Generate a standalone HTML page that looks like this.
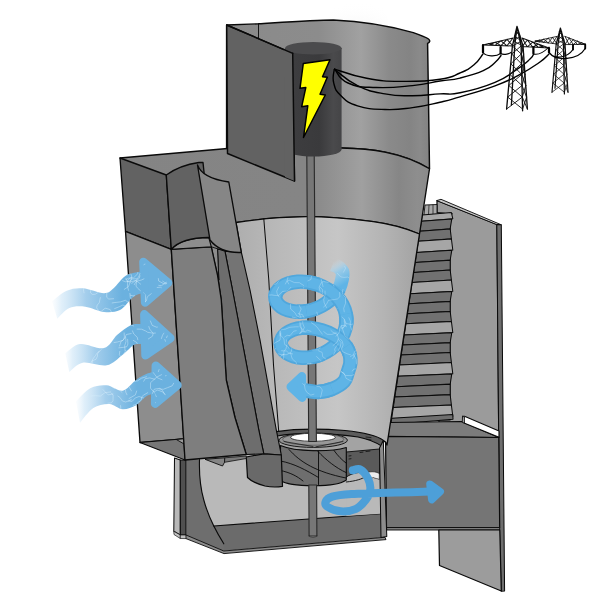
<!DOCTYPE html>
<html><head><meta charset="utf-8"><title>Hydro turbine diagram</title>
<style>html,body{margin:0;padding:0;background:#fff;font-family:"Liberation Sans",sans-serif}svg{display:block}</style>
</head><body>
<svg width="600" height="600" viewBox="0 0 600 600">
<rect width="600" height="600" fill="#fff"/>
<defs>
<linearGradient id="gWall" x1="227" y1="0" x2="430" y2="0" gradientUnits="userSpaceOnUse">
 <stop offset="0" stop-color="#8a8a8a"/><stop offset="0.45" stop-color="#8c8c8c"/>
 <stop offset="0.66" stop-color="#a1a1a1"/><stop offset="0.8" stop-color="#8a8a8a"/>
 <stop offset="0.9" stop-color="#848484"/><stop offset="0.95" stop-color="#8a8a8a"/><stop offset="1" stop-color="#828282"/>
</linearGradient>
<linearGradient id="gBand" x1="120" y1="0" x2="430" y2="0" gradientUnits="userSpaceOnUse">
 <stop offset="0" stop-color="#848484"/><stop offset="0.6" stop-color="#858585"/>
 <stop offset="0.78" stop-color="#a0a0a0"/><stop offset="0.9" stop-color="#868686"/><stop offset="0.96" stop-color="#8e8e8e"/><stop offset="1" stop-color="#8a8a8a"/>
</linearGradient>
<linearGradient id="gCone" x1="237" y1="0" x2="420" y2="0" gradientUnits="userSpaceOnUse">
 <stop offset="0" stop-color="#aeaeae"/><stop offset="0.2" stop-color="#b8b8b8"/>
 <stop offset="0.55" stop-color="#c6c6c6"/><stop offset="0.8" stop-color="#b4b4b4"/><stop offset="1" stop-color="#a2a2a2"/>
</linearGradient>
<linearGradient id="gGen" x1="285" y1="0" x2="342" y2="0" gradientUnits="userSpaceOnUse">
 <stop offset="0" stop-color="#3e3e40"/><stop offset="0.6" stop-color="#3a3a3c"/><stop offset="0.85" stop-color="#4a4a4c"/><stop offset="1" stop-color="#444446"/>
</linearGradient>
<radialGradient id="gFog" cx="0.5" cy="1" r="0.9"><stop offset="0" stop-color="#e9e9e9"/><stop offset="1" stop-color="#ffffff" stop-opacity="0"/></radialGradient>
<filter id="soft" x="-5%" y="-5%" width="110%" height="110%"><feGaussianBlur stdDeviation="0.5"/></filter>
</defs>
<ellipse cx="358" cy="22" rx="30" ry="26" fill="url(#gFog)"/>
<path d="M437,200.5 L497,224.5 L499.5,530 L439,530 L439,420 L450,420 L450,214 L437,212.5 Z" fill="#9b9b9b" stroke="#0a0a0a" stroke-width="1.23" stroke-linejoin="round" stroke-linecap="round" />
<path d="M437,200.5 L441,199.3 L501.3,224.8 L496.8,224.5 Z" fill="#c8c8c8" stroke="#0a0a0a" stroke-width="0.9" stroke-linejoin="round" stroke-linecap="round" />
<polygon points="496.8,224.5 501.3,224.8 504.6,591.0 501.2,591.3 499.5,530.0" fill="#6e6e6e" stroke="#0a0a0a" stroke-width="1.01" stroke-linejoin="round" />
<polygon points="425.0,205.0 437.0,204.5 437.0,213.0 452.5,213.8 423.8,215.5" fill="#a8a8a8" stroke="#0a0a0a" stroke-width="0.9" stroke-linejoin="round" />
<path d="M429,205.5 L428.5,214.5 M433,205 L433,214" fill="none" stroke="#0a0a0a" stroke-width="0.67" stroke-linejoin="round" stroke-linecap="round" />
<polygon points="422.3,215.0 451.4,212.6 452.8,218.7 421.3,221.3" fill="#a6a6a6" stroke="#0a0a0a" stroke-width="1.01" stroke-linejoin="round" />
<polygon points="421.3,221.3 451.8,218.9 450.2,228.7 419.8,231.3" fill="#717171" stroke="#0a0a0a" stroke-width="1.01" stroke-linejoin="round" />
<polygon points="419.8,231.3 450.2,228.9 451.4,238.7 418.3,241.3" fill="#717171" stroke="#0a0a0a" stroke-width="1.01" stroke-linejoin="round" />
<polygon points="418.3,241.3 451.4,238.9 452.8,250.0 416.6,252.6" fill="#a6a6a6" stroke="#0a0a0a" stroke-width="1.01" stroke-linejoin="round" />
<polygon points="416.6,252.6 451.8,250.2 450.2,260.0 415.1,262.6" fill="#717171" stroke="#0a0a0a" stroke-width="1.01" stroke-linejoin="round" />
<polygon points="415.1,262.6 450.2,260.2 450.2,269.9 413.6,272.5" fill="#717171" stroke="#0a0a0a" stroke-width="1.01" stroke-linejoin="round" />
<polygon points="413.6,272.5 450.2,270.1 451.4,279.9 412.1,282.5" fill="#717171" stroke="#0a0a0a" stroke-width="1.01" stroke-linejoin="round" />
<polygon points="412.1,282.5 451.4,280.1 452.8,291.2 410.4,293.8" fill="#a6a6a6" stroke="#0a0a0a" stroke-width="1.01" stroke-linejoin="round" />
<polygon points="410.4,293.8 451.8,291.4 450.2,301.2 408.9,303.8" fill="#717171" stroke="#0a0a0a" stroke-width="1.01" stroke-linejoin="round" />
<polygon points="408.9,303.8 450.2,301.4 450.2,311.2 407.4,313.8" fill="#717171" stroke="#0a0a0a" stroke-width="1.01" stroke-linejoin="round" />
<polygon points="407.4,313.8 450.2,311.4 451.4,321.2 405.9,323.8" fill="#717171" stroke="#0a0a0a" stroke-width="1.01" stroke-linejoin="round" />
<polygon points="405.9,323.8 451.4,321.4 452.8,332.5 404.2,335.1" fill="#a6a6a6" stroke="#0a0a0a" stroke-width="1.01" stroke-linejoin="round" />
<polygon points="404.2,335.1 451.8,332.7 450.2,342.5 402.7,345.1" fill="#717171" stroke="#0a0a0a" stroke-width="1.01" stroke-linejoin="round" />
<polygon points="402.7,345.1 450.2,342.7 450.2,352.4 401.2,355.0" fill="#717171" stroke="#0a0a0a" stroke-width="1.01" stroke-linejoin="round" />
<polygon points="401.2,355.0 450.2,352.6 451.4,362.4 399.7,365.0" fill="#717171" stroke="#0a0a0a" stroke-width="1.01" stroke-linejoin="round" />
<polygon points="399.7,365.0 451.4,362.6 452.8,373.7 398.0,376.3" fill="#a6a6a6" stroke="#0a0a0a" stroke-width="1.01" stroke-linejoin="round" />
<polygon points="398.0,376.3 451.8,373.9 450.2,384.1 396.4,386.7" fill="#717171" stroke="#0a0a0a" stroke-width="1.01" stroke-linejoin="round" />
<polygon points="396.4,386.7 450.2,384.3 450.2,394.5 394.8,397.1" fill="#717171" stroke="#0a0a0a" stroke-width="1.01" stroke-linejoin="round" />
<polygon points="394.8,397.1 450.2,394.7 451.4,404.9 393.3,407.5" fill="#717171" stroke="#0a0a0a" stroke-width="1.01" stroke-linejoin="round" />
<polygon points="393.3,407.5 451.4,405.1 452.8,416.2 391.6,418.8" fill="#a6a6a6" stroke="#0a0a0a" stroke-width="1.01" stroke-linejoin="round" />
<polygon points="391.7,418.3 452.8,414.5 453.0,419.3 391.0,424.5" fill="#6f6f6f" stroke="#0a0a0a" stroke-width="1.01" stroke-linejoin="round" />
<polygon points="389.0,422.5 461.5,421.5 498.8,437.5 385.5,436.3" fill="#7c7c7c" stroke="#0a0a0a" stroke-width="1.12" stroke-linejoin="round" />
<polygon points="462.5,416.3 464.5,416.3 499.0,431.0 499.0,437.3 464.0,423.0" fill="#ffffff" stroke="#0a0a0a" stroke-width="1.12" stroke-linejoin="round" />
<polygon points="462.5,416.3 464.5,417.0 464.5,423.0 462.3,422.5" fill="#9a9a9a" stroke="#0a0a0a" stroke-width="0.78" stroke-linejoin="round" />
<polygon points="385.5,436.3 498.8,437.5 499.7,527.5 386.5,527.5" fill="#757575" stroke="#0a0a0a" stroke-width="1.23" stroke-linejoin="round" />
<polygon points="386.5,527.5 499.7,527.5 499.7,530.0 386.8,530.0" fill="#7d7d7d" stroke="#0a0a0a" stroke-width="0.9" stroke-linejoin="round" />
<polygon points="438.8,530.0 499.8,530.0 501.3,591.0 439.5,565.5" fill="#9c9c9c" stroke="#0a0a0a" stroke-width="1.23" stroke-linejoin="round" />
<path d="M185.8,458 L383,440 L383,520 L186,536 Z" fill="#b9b9b9" stroke="none" stroke-width="0" stroke-linejoin="round" stroke-linecap="round" />
<path d="M213.8,526 L380.5,513.8 L385,537.3 L223.8,551 L186,535 L186,470 Z" fill="#6b6b6b" stroke="none" stroke-width="0" stroke-linejoin="round" stroke-linecap="round" />
<path d="M185.8,458 L199.5,459.5 C199,475 201,490 203.8,500 C207,512 212,525 223.8,543.8 L223.8,551 L186,535 Z" fill="#6e6e6e" stroke="none" stroke-width="0" stroke-linejoin="round" stroke-linecap="round" />
<path d="M199.5,459.5 C199,475 201,490 203.8,500 C207,512 212,525 223.8,543.8" fill="none" stroke="#0a0a0a" stroke-width="1.12" stroke-linejoin="round" stroke-linecap="round" />
<path d="M213.8,526 L380.5,513.8" fill="none" stroke="#0a0a0a" stroke-width="1.12" stroke-linejoin="round" stroke-linecap="round" />
<path d="M186,535 L223.8,551 L385,537.3 L386,539.6 L224,553.6 L186,538.6 Z" fill="#8c8c8c" stroke="#0a0a0a" stroke-width="0.9" stroke-linejoin="round" stroke-linecap="round" />
<polygon points="174.5,458.0 180.3,460.0 180.3,535.0 173.8,531.3" fill="#b8b8b8" stroke="#0a0a0a" stroke-width="1.01" stroke-linejoin="round" />
<polygon points="180.3,460.0 185.8,460.0 185.8,535.0 180.3,535.0" fill="#505050" stroke="#0a0a0a" stroke-width="1.01" stroke-linejoin="round" />
<polygon points="173.8,531.3 180.3,535.0 180.3,538.5 174.0,534.5" fill="#c4c4c4" stroke="#0a0a0a" stroke-width="0.67" stroke-linejoin="round" />
<polygon points="180.3,535.0 185.8,535.0 186.0,538.6 180.3,538.5" fill="#bdbdbd" stroke="#0a0a0a" stroke-width="0.67" stroke-linejoin="round" />
<path d="M226.6,25 L258.5,23.8 C290,21.8 315,20 333.3,20 C360,21.2 390,26 413.3,32.6 C420,34.9 426,37.2 428.5,39 C430.5,40.5 430,42.5 427.6,43.4 L428.5,100 L429.5,168.8 C402,152 370,148.5 341,148 L300,148 L226.6,154 Z" fill="url(#gWall)" stroke="#0a0a0a" stroke-width="1.46" stroke-linejoin="round" stroke-linecap="round" />
<path d="M258.5,23.8 L258.5,40" fill="none" stroke="#0a0a0a" stroke-width="0.9" stroke-linejoin="round" stroke-linecap="round" />
<path d="M120,158 L227.5,148.5 L300,148 L341,148 C370,148.5 402,152 429.5,168.8 L419.5,234 C405,228 390,224 373.3,221.7 C345,218 320,216.7 306.7,216.7 C275,217.3 250,220.3 237.5,222.5 L240,250 L171,250 Z" fill="url(#gBand)" stroke="#0a0a0a" stroke-width="1.34" stroke-linejoin="round" stroke-linecap="round" />
<path d="M236,222.5 C250,220.3 275,217.3 306.7,216.7 C320,216.7 345,218 373.3,221.7 C390,224 405,228 419.5,234 L387,445 C386,442 385,441 383,440.6 L276,432 L270,445 L242,445 L241.3,252.5 Z" fill="url(#gCone)" stroke="#0a0a0a" stroke-width="1.34" stroke-linejoin="round" stroke-linecap="round" />
<path d="M263.8,218.8 L268.8,280 L273.5,365 L278.7,431" fill="none" stroke="#0a0a0a" stroke-width="1.01" stroke-linejoin="round" stroke-linecap="round" />
<path d="M346.3,449 L380,448.5 L380.3,513.8 L346.3,516 Z" fill="#b9b9b9" stroke="none" stroke-width="0" stroke-linejoin="round" stroke-linecap="round" />
<path d="M346.3,449 L379.5,447 L379.5,474 C376,472.5 372,472 368,472.5 C360,471.5 352,473 346.3,477 Z" fill="#5a5a5a" stroke="#0a0a0a" stroke-width="0.9" stroke-linejoin="round" stroke-linecap="round" />
<path d="M366.5,473 C370,471 376,471.5 379.3,473.5 L379.3,479.5 C377,478 375.5,479 373.5,477.5 C371,478.5 368,477 366.5,473Z" fill="#ececec" stroke="#0a0a0a" stroke-width="0.56" stroke-linejoin="round" stroke-linecap="round" />
<path d="M349,456 l2,-0.3 M349,459 l2,-0.3 M360,452.5 l3,-0.4 M366,451.5 l4,-0.5" fill="none" stroke="#0a0a0a" stroke-width="0.78" stroke-linejoin="round" stroke-linecap="round" />
<path d="M277,434.7 C295,432 330,431.5 358,436 C368,438 375,440.5 382,445.6 L379.5,449 L346.3,452 L280,449 Z" fill="#a3a3a3" stroke="#0a0a0a" stroke-width="0.9" stroke-linejoin="round" stroke-linecap="round" />
<path d="M276.3,431.6 C295,428.8 318,428.3 345,430.5 C362,432.2 377,435.6 383.5,440.4 L382,446.4 C375,441.5 368,439 358,437 C330,432.5 295,432.8 277,436 Z" fill="#5c5c5c" stroke="#0a0a0a" stroke-width="1.12" stroke-linejoin="round" stroke-linecap="round" />
<ellipse cx="313.2" cy="440.2" rx="34.2" ry="7.2" fill="#929292" stroke="#0a0a0a" stroke-width="0.9"/>
<ellipse cx="313.2" cy="439.4" rx="30.5" ry="5.8" fill="#989898" stroke="#333" stroke-width="0.5"/>
<ellipse cx="313" cy="437.3" rx="22.4" ry="4" fill="#ffffff" stroke="#0a0a0a" stroke-width="0.7"/>
<path d="M284,441.5 L313,446.5 M343,441.5 L316,446.8 M366,437 l5,0.6 M367,439.3 l4,0.5" fill="none" stroke="#0a0a0a" stroke-width="0.67" stroke-linejoin="round" stroke-linecap="round" />
<path d="M280.5,445.5 L280.5,480.5 C290,487 336,488 346.3,480 L346.3,447.5 C330,452.3 296,452 280.5,445.5 Z" fill="#6e6e6e" stroke="#0a0a0a" stroke-width="1.12" stroke-linejoin="round" stroke-linecap="round" />
<path d="M289,449.5 C300,462 316,472 346,478 M318,451.5 C326,460 336,468 346,472.5 M318.5,451.5 L318.5,484.5 M280.5,461 C294,463.5 306,470 318.5,477.5 M334,450.5 C338,456 342,460 346,463 M280.5,470.5 C290,472.5 297,476 303,481" fill="none" stroke="#0a0a0a" stroke-width="0.9" stroke-linejoin="round" stroke-linecap="round" />
<path d="M346.3,482 C356,481 362,479 366,476.5" fill="none" stroke="#0a0a0a" stroke-width="0.9" stroke-linejoin="round" stroke-linecap="round" />
<polygon points="379.5,448.0 383.3,440.6 386.8,536.5 381.0,537.5" fill="#8c8c8c" stroke="#0a0a0a" stroke-width="1.01" stroke-linejoin="round" />
<polygon points="120.0,158.0 166.3,175.0 171.3,249.3 125.5,231.3" fill="#626262" stroke="#0a0a0a" stroke-width="1.34" stroke-linejoin="round" />
<polygon points="125.5,231.3 171.3,249.3 183.8,438.8 140.0,442.5" fill="#8d8d8d" stroke="#0a0a0a" stroke-width="1.34" stroke-linejoin="round" />
<polygon points="140.0,442.5 183.8,438.8 185.0,460.0" fill="#767676" stroke="#0a0a0a" stroke-width="1.12" stroke-linejoin="round" />
<polygon points="176.3,439.5 183.8,438.8 184.2,444.0" fill="#9a9a9a" stroke="#0a0a0a" stroke-width="0.9" stroke-linejoin="round" />
<polygon points="225.0,251.3 232.5,290.0 243.8,350.0 258.8,430.0 263.8,453.8 281.3,455.0 276.3,430.0 260.0,340.0 250.0,290.0 241.3,252.0" fill="#747474" stroke="#0a0a0a" stroke-width="1.12" stroke-linejoin="round" />
<polygon points="217.5,248.8 225.0,251.3 232.5,290.0 243.8,350.0 258.8,430.0 263.8,453.8 246.3,454.5 235.0,417.5 226.3,380.0 221.3,300.0 217.5,275.0 218.8,280.0" fill="#6d6d6d" stroke="#0a0a0a" stroke-width="1.12" stroke-linejoin="round" />
<polygon points="211.3,246.8 217.5,248.8 218.8,280.0 217.5,275.0" fill="#8d8d8d" stroke="#0a0a0a" stroke-width="0.9" stroke-linejoin="round" />
<path d="M246.3,457 L263.8,453.8 L281.3,455 L282.5,486.3 C276,487.5 270,487 265,486 C257,484 251,481 247.5,477.5 Z" fill="#696969" stroke="#0a0a0a" stroke-width="1.23" stroke-linejoin="round" stroke-linecap="round" />
<polygon points="205.0,459.3 224.8,457.8 224.5,462.3 222.5,466.0" fill="#858585" stroke="#0a0a0a" stroke-width="0.9" stroke-linejoin="round" />
<polygon points="224.8,457.8 246.3,456.0 246.3,458.5 224.5,462.3" fill="#7a7a7a" stroke="#0a0a0a" stroke-width="0.78" stroke-linejoin="round" />
<polygon points="171.3,249.3 211.3,246.8 217.5,275.0 221.3,300.0 226.3,380.0 235.0,417.5 246.3,454.5 185.0,460.0" fill="#7e7e7e" stroke="#0a0a0a" stroke-width="1.34" stroke-linejoin="round" />
<path d="M171.3,249.3 C178,242 190,237.5 208.8,237.5 L211.3,246.8 Z" fill="#8e8e8e" stroke="#0a0a0a" stroke-width="1.12" stroke-linejoin="round" stroke-linecap="round" />
<path d="M166.3,175 C176,168 188,164 198.8,162.5 L203,162.5 L204,172 L212,241 L208.8,237.5 C190,237.5 178,242 171.3,249.3 Z" fill="#626262" stroke="#0a0a0a" stroke-width="1.34" stroke-linejoin="round" stroke-linecap="round" />
<path d="M197.5,165 C200,172 208,179 228.8,182 L241.3,252.5 C228,253 217,249 210,240 Z" fill="#868686" stroke="#0a0a0a" stroke-width="1.34" stroke-linejoin="round" stroke-linecap="round" />
<polygon points="226.7,25.0 292.7,53.3 294.5,181.0 227.5,153.5" fill="#626262" stroke="#0a0a0a" stroke-width="1.46" stroke-linejoin="round" />
<polygon points="306.8,154.0 314.2,154.0 316.4,441.5 308.7,441.5" fill="#777777" stroke="#2a2a2a" stroke-width="1.12" stroke-linejoin="round" />
<polygon points="308.8,485.0 316.6,485.0 316.9,536.0 309.1,536.0" fill="#777777" stroke="#2a2a2a" stroke-width="1.12" stroke-linejoin="round" />
<path d="M309.1,536 C310.5,537.6 315.5,537.6 316.9,536" fill="#777" stroke="#2a2a2a" stroke-width="0.8" stroke-linejoin="round" stroke-linecap="round" />
<path d="M285,48 L285,149.5 A28.3,7 0 0 0 341.6,149.5 L341.6,48 Z" fill="url(#gGen)" stroke="none" stroke-width="0" stroke-linejoin="round" stroke-linecap="round" />
<ellipse cx="313.3" cy="48.2" rx="28.3" ry="6.3" fill="#4b4b4d"/>
<polygon points="292.7,53.3 294.5,181.0 285.0,177.0 284.0,49.5" fill="#626262" stroke="none" stroke-width="0" stroke-linejoin="round" />
<path d="M292.7,53.3 L294.5,181" fill="none" stroke="#0a0a0a" stroke-width="1.46" stroke-linejoin="round" stroke-linecap="round" />
<path d="M226.7,25 L292.7,53.3" fill="none" stroke="#0a0a0a" stroke-width="1.46" stroke-linejoin="round" stroke-linecap="round" />
<polygon points="303.3,63.5 330.0,59.8 322.5,76.7 327.3,77.2 320.0,94.2 325.3,95.0 303.5,137.5 307.8,105.8 301.7,106.7 305.8,87.5 300.0,88.3" fill="#ffff00" stroke="#000" stroke-width="1.46" stroke-linejoin="round" />
<path d="M334.6,69.1 C342.6,71.4 349.5,75.2 366.7,78.3 C383.9,81.4 385.1,81.2 403.4,81.4 C421.7,81.6 425.9,81.3 440.0,79.2 C454.1,77.1 451.5,76.6 460.0,73.0 C468.5,69.4 468.3,69.5 474.0,64.8 C479.7,60.1 480.6,56.9 482.8,54.3" fill="none" stroke="#000" stroke-width="1.4" stroke-linejoin="round" stroke-linecap="round" />
<path d="M334.6,69.1 C338.0,72.6 337.6,78.4 348.0,83.0 C358.4,87.6 359.9,86.8 376.0,87.5 C392.1,88.2 396.5,87.2 412.5,85.6 C428.5,84.0 428.1,82.9 440.0,81.0 C451.9,79.1 449.2,80.7 460.0,78.1 C470.8,75.5 474.6,74.6 483.3,70.7 C492.1,66.8 490.6,66.3 495.0,62.5 C499.4,58.7 499.5,57.2 501.0,55.5" fill="none" stroke="#000" stroke-width="1.4" stroke-linejoin="round" stroke-linecap="round" />
<path d="M334.6,69.5 C340.3,73.5 344.9,79.5 357.5,85.6 C370.1,91.7 371.2,91.4 385.0,93.9 C398.8,96.4 398.8,95.7 412.5,95.7 C426.2,95.7 428.1,94.6 440.0,93.9 C451.9,93.2 446.2,95.7 460.0,92.8 C473.8,89.9 480.4,88.4 495.0,82.3 C509.6,76.2 509.5,74.1 518.3,68.3 C527.0,62.5 526.2,62.5 530.0,59.0 C533.8,55.5 532.6,55.5 533.5,54.3" fill="none" stroke="#000" stroke-width="1.4" stroke-linejoin="round" stroke-linecap="round" />
<path d="M334.2,69.5 C334.1,72.8 332.0,76.4 333.7,82.9 C335.4,89.5 335.1,90.0 341.0,95.7 C346.9,101.4 346.5,102.3 357.5,105.8 C368.5,109.2 371.2,109.0 385.0,109.5 C398.8,110.0 398.8,109.4 412.5,107.6 C426.2,105.8 428.1,104.9 440.0,102.2 C451.9,99.5 446.2,100.9 460.0,96.8 C473.8,92.7 480.4,91.2 495.0,85.8 C509.6,80.4 507.2,81.1 518.3,75.3 C529.4,69.5 531.7,67.8 539.3,62.5 C546.9,57.2 546.4,56.3 548.8,54.3" fill="none" stroke="#000" stroke-width="1.4" stroke-linejoin="round" stroke-linecap="round" />
<path d="M557.0,36.4 L535.0,41.2 L557.0,44.0 M565.0,36.4 L585.6,44.4 L565.0,44.6 M557.0,36.4 L552.6,43.4 M557.0,44.0 L552.6,37.4 M552.6,37.4 L548.2,42.9 M552.6,43.4 L548.2,38.3 M548.2,38.3 L543.8,42.3 M548.2,42.9 L543.8,39.3 M543.8,39.3 L539.4,41.8 M543.8,42.3 L539.4,40.2 M539.4,40.2 L535.0,41.2 M539.4,41.8 L535.0,41.2 M565.0,36.4 L569.1,44.6 M565.0,44.6 L569.1,38.0 M569.1,38.0 L573.2,44.5 M569.1,44.6 L573.2,39.6 M573.2,39.6 L577.4,44.5 M573.2,44.5 L577.4,41.2 M577.4,41.2 L581.5,44.4 M577.4,44.5 L581.5,42.8 M581.5,42.8 L585.6,44.4 M581.5,44.4 L585.6,44.4 " fill="none" stroke="#111" stroke-width="0.84" stroke-linejoin="round" stroke-linecap="round" />
<path d="M560.4,28.0 L556.2,44.0 L552.0,92.2 M560.4,28.0 L565.0,44.0 L568.0,92.2 M560.4,28.0 L558.1,44.0 L555.0,88.2 M560.4,28.0 L563.4,44.0 L564.4,94.0 " fill="none" stroke="#0c0c0c" stroke-width="1.18" stroke-linejoin="round" stroke-linecap="round" />
<path d="M556.2,44.0 L563.5,50.1 M563.4,44.0 L555.7,50.1 M563.4,44.0 L565.4,50.1 M565.0,44.0 L563.5,50.1 M555.7,50.1 L563.7,57.6 M563.5,50.1 L555.0,57.6 M563.5,50.1 L565.8,57.6 M565.4,50.1 L563.7,57.6 M555.0,57.6 L563.9,65.7 M563.7,57.6 L554.3,65.7 M563.7,57.6 L566.4,65.7 M565.8,57.6 L563.9,65.7 M554.3,65.7 L564.0,74.2 M563.9,65.7 L553.6,74.2 M563.9,65.7 L566.9,74.2 M566.4,65.7 L564.0,74.2 M553.6,74.2 L564.2,83.1 M564.0,74.2 L552.8,83.1 M564.0,74.2 L567.4,83.1 M566.9,74.2 L564.2,83.1 M552.8,83.1 L564.4,92.2 M564.2,83.1 L552.0,92.2 M564.2,83.1 L568.0,92.2 M567.4,83.1 L564.4,92.2 M559.4,32.0 L562.7,36.0 M561.5,32.0 L558.3,36.0 M558.3,36.0 L563.9,40.0 M562.7,36.0 L557.2,40.0 M557.2,40.0 L565.0,44.0 M563.9,40.0 L556.2,44.0 " fill="none" stroke="#111" stroke-width="0.76" stroke-linejoin="round" stroke-linecap="round" />
<path d="M573,45 L573,49.5 M585.2,44.4 L585.2,48.5" fill="none" stroke="#000" stroke-width="1.9" stroke-linejoin="round" stroke-linecap="round" />
<path d="M549,52.5 C553,58.5 566,59.5 573,49.5 M549,52.5 C556,61.5 578,60.5 585.2,48.5" fill="none" stroke="#000" stroke-width="1.23" stroke-linejoin="round" stroke-linecap="round" />
<path d="M533.5,54 C539,55.5 546,50 549,47" fill="none" stroke="#000" stroke-width="1.01" stroke-linejoin="round" stroke-linecap="round" />
<path d="M513.0,38.0 L483.0,45.0 L513.0,46.0 M522.0,38.0 L549.0,48.0 L522.0,46.6 M513.0,38.0 L507.0,45.8 M513.0,46.0 L507.0,39.4 M507.0,39.4 L501.0,45.6 M507.0,45.8 L501.0,40.8 M501.0,40.8 L495.0,45.4 M501.0,45.6 L495.0,42.2 M495.0,42.2 L489.0,45.2 M495.0,45.4 L489.0,43.6 M489.0,43.6 L483.0,45.0 M489.0,45.2 L483.0,45.0 M522.0,38.0 L527.4,46.9 M522.0,46.6 L527.4,40.0 M527.4,40.0 L532.8,47.2 M527.4,46.9 L532.8,42.0 M532.8,42.0 L538.2,47.4 M532.8,47.2 L538.2,44.0 M538.2,44.0 L543.6,47.7 M538.2,47.4 L543.6,46.0 M543.6,46.0 L549.0,48.0 M543.6,47.7 L549.0,48.0 " fill="none" stroke="#111" stroke-width="1.01" stroke-linejoin="round" stroke-linecap="round" />
<path d="M517.0,26.4 L512.4,46.0 L506.6,109.0 M517.0,26.4 L523.0,46.0 L527.4,109.0 M517.0,26.4 L514.7,46.0 L511.4,105.0 M517.0,26.4 L521.1,46.0 L522.6,110.8 " fill="none" stroke="#0c0c0c" stroke-width="1.34" stroke-linejoin="round" stroke-linecap="round" />
<path d="M512.4,46.0 L521.3,54.0 M521.1,46.0 L511.7,54.0 M521.1,46.0 L523.6,54.0 M523.0,46.0 L521.3,54.0 M511.7,54.0 L521.5,63.8 M521.3,54.0 L510.8,63.8 M521.3,54.0 L524.2,63.8 M523.6,54.0 L521.5,63.8 M510.8,63.8 L521.8,74.4 M521.5,63.8 L509.8,74.4 M521.5,63.8 L525.0,74.4 M524.2,63.8 L521.8,74.4 M509.8,74.4 L522.0,85.5 M521.8,74.4 L508.8,85.5 M521.8,74.4 L525.8,85.5 M525.0,74.4 L522.0,85.5 M508.8,85.5 L522.3,97.1 M522.0,85.5 L507.7,97.1 M522.0,85.5 L526.6,97.1 M525.8,85.5 L522.3,97.1 M507.7,97.1 L522.6,109.0 M522.3,97.1 L506.6,109.0 M522.3,97.1 L527.4,109.0 M526.6,97.1 L522.6,109.0 M515.9,31.3 L520.0,36.2 M518.5,31.3 L514.7,36.2 M514.7,36.2 L521.5,41.1 M520.0,36.2 L513.5,41.1 M513.5,41.1 L523.0,46.0 M521.5,41.1 L512.4,46.0 " fill="none" stroke="#111" stroke-width="0.9" stroke-linejoin="round" stroke-linecap="round" />
<path d="M483,45 L483,52.5 M500.6,47 L500.6,53.5 M533.4,47.6 L533.4,53.5 M549,48 L549,52.5" fill="none" stroke="#000" stroke-width="2.24" stroke-linejoin="round" stroke-linecap="round" />
<path d="M483,52.5 C486,56.5 496,57 500.6,53.5 C503,55 508,54.5 511,52.5" fill="none" stroke="#000" stroke-width="1.23" stroke-linejoin="round" stroke-linecap="round" />
<linearGradient id="ga1" x1="50.0" y1="0" x2="122.0" y2="0" gradientUnits="userSpaceOnUse"><stop offset="0" stop-color="#e6f2fb" stop-opacity="0"/><stop offset="0.16" stop-color="#d6eaf8" stop-opacity="0.75"/><stop offset="0.5" stop-color="#a4ceec"/><stop offset="1" stop-color="#6bb1df"/></linearGradient><clipPath id="ca1"><path d="M52.0,301.3 C54.4,299.6 61.6,292.8 66.7,290.7 C71.8,288.6 76.5,287.9 82.7,288.3 C88.9,288.7 99.0,293.2 104.0,293.2 C109.0,293.2 109.8,291.3 113.3,288.5 C116.8,285.7 121.1,278.7 125.3,276.0 C129.5,273.3 135.3,272.7 138.7,272.0 C142.1,271.3 144.8,272.0 146.0,272.0 L146.0,293.5 L146.0,293.5 C145.0,293.5 142.3,293.1 140.0,293.8 C137.7,294.5 135.3,295.3 132.0,298.0 C128.7,300.7 124.6,307.7 120.0,310.0 C115.4,312.3 109.7,312.5 104.0,312.0 C98.3,311.5 91.0,307.4 85.3,306.7 C79.6,306.0 73.9,306.0 69.3,308.0 C64.7,310.0 59.3,316.9 57.3,318.7Z"/><path d="M143.4,261.9 L168.1,282.7 L145.1,302.5 Z" stroke="#000" stroke-width="8.4" stroke-linejoin="round"/></clipPath><path d="M52.0,301.3 C54.4,299.6 61.6,292.8 66.7,290.7 C71.8,288.6 76.5,287.9 82.7,288.3 C88.9,288.7 99.0,293.2 104.0,293.2 C109.0,293.2 109.8,291.3 113.3,288.5 C116.8,285.7 121.1,278.7 125.3,276.0 C129.5,273.3 135.3,272.7 138.7,272.0 C142.1,271.3 144.8,272.0 146.0,272.0 L146.0,293.5 L146.0,293.5 C145.0,293.5 142.3,293.1 140.0,293.8 C137.7,294.5 135.3,295.3 132.0,298.0 C128.7,300.7 124.6,307.7 120.0,310.0 C115.4,312.3 109.7,312.5 104.0,312.0 C98.3,311.5 91.0,307.4 85.3,306.7 C79.6,306.0 73.9,306.0 69.3,308.0 C64.7,310.0 59.3,316.9 57.3,318.7Z" fill="url(#ga1)" stroke="none" stroke-width="0" stroke-linejoin="round" stroke-linecap="round" /><path d="M143.4,261.9 L168.1,282.7 L145.1,302.5 Z" fill="#6bb1df" stroke="#6bb1df" stroke-width="8.4" stroke-linejoin="round"/><g clip-path="url(#ca1)"><path d="M123.9,289.6 L128.5,286.6 L130.4,281.6 L131.9,277.2 L130.7,273.3 L127.0,271.0 L125.9,266.4 M137.1,278.7 L131.7,279.0 L130.2,281.1 L125.6,281.8 L122.2,280.5 M136.7,265.4 L137.2,270.2 L137.9,273.6 L133.6,277.8 L128.6,278.2 L125.6,279.6 M108.8,257.1 L106.5,254.4 L104.0,254.4 L101.0,253.1 L100.1,250.6 L97.4,246.4 L94.4,243.1 M100.4,297.2 L99.2,302.9 L97.2,305.1 L96.6,307.9 L99.8,312.1 L104.2,313.2 M123.4,265.1 L122.4,261.4 L119.6,256.2 L114.1,255.7 L111.7,251.8 M174.4,253.8 L177.3,254.6 L179.8,254.9 L184.9,256.9 M117.8,257.4 L121.3,258.7 L123.8,260.3 L127.7,264.0 L131.6,264.2 M140.1,273.1 L139.1,276.0 L136.7,279.7 L133.6,282.0 L131.4,283.7 M86.4,259.7 L81.9,261.9 L78.7,266.2 L76.1,268.6 L75.2,273.5 L77.3,276.1 M133.8,308.9 L128.2,308.1 L126.0,306.5 L122.9,305.0 L119.8,306.5 L114.3,308.7 M90.5,261.7 L85.6,261.7 L82.7,261.2 L80.8,262.9 L75.9,262.6 L74.4,260.5 M140.9,284.4 L138.8,282.6 L135.8,280.4 L130.2,282.0 L127.3,281.5 L125.7,278.1 M89.9,283.8 L90.4,286.4 L90.9,288.9 L90.4,292.7 L92.4,294.5 L95.3,294.2 L98.6,292.1 M112.6,314.3 L110.1,309.5 L105.2,308.2 L101.6,311.0 L99.1,313.2 L95.0,314.5 L89.3,315.0 M105.7,253.2 L103.9,258.1 L103.7,263.8 L103.5,267.2 L104.0,270.5 M140.7,305.7 L143.4,303.0 L146.4,300.9 L147.3,296.8 L151.6,293.4 M147.9,315.4 L150.2,318.8 L148.9,324.0 L148.9,328.4 L147.1,333.1 M160.0,293.9 L160.0,298.5 L158.8,301.8 L158.5,306.5 M134.2,294.9 L134.1,300.3 L135.5,303.0 L140.2,303.7 L144.9,304.0 M142.7,305.9 L145.4,302.8 L145.5,300.2 L145.6,295.2 L143.5,292.5 M114.0,298.7 L108.8,299.1 L106.7,297.3 L106.8,292.2 L104.1,289.2 M139.9,312.7 L136.8,316.3 L136.1,321.3 L132.8,324.7 L129.8,325.9 L124.4,323.4 M172.5,288.0 L171.4,283.2 L167.4,281.6 L164.3,283.5 L161.6,285.7 L158.4,285.3 M162.3,280.9 L167.1,284.1 L172.2,287.1 L173.2,291.3 L172.7,295.4 L169.3,298.2 M145.8,302.7 L141.5,301.4 L137.5,303.1 L134.4,301.7 L130.2,297.6 L129.9,293.0 M110.2,261.8 L107.3,260.5 L103.5,258.5 L101.6,256.8 L101.9,252.5 L101.2,247.2 M134.1,285.0 L136.0,281.4 L141.2,280.1 L144.3,278.7 M127.7,275.0 L130.1,273.4 L132.0,271.7 L133.7,267.0 L136.3,266.3 L137.7,264.3 L138.7,259.3 M104.6,285.5 L101.1,282.5 L99.0,278.0 L99.8,275.6 M140.6,307.1 L140.1,302.8 L138.1,300.3 L135.5,296.5 L130.0,295.1 M140.1,275.5 L139.1,278.5 L136.6,280.5 L136.0,286.1 L137.7,288.3 L140.7,290.9 M169.2,288.5 L166.9,284.1 L163.7,283.7 L158.7,281.0 L158.3,278.2 M128.8,302.7 L125.4,300.3 L120.5,301.9 L114.9,302.5 L111.8,303.0 M92.6,263.9 L91.9,266.6 L95.2,271.5 L98.4,275.5 L101.9,277.6 L105.3,279.8 M137.6,253.4 L134.3,251.0 L132.6,247.5 L129.8,246.0 L127.6,244.8 M164.7,305.6 L164.2,302.4 L164.3,298.7 L166.1,295.8 L165.0,290.8 L160.5,287.2 L156.8,287.5 M131.9,277.0 L127.8,279.9 L127.5,283.6 L127.4,286.1 L128.6,290.7 M139.8,267.9 L143.5,264.9 L147.3,262.6 L151.7,258.5 L156.1,256.3 L162.0,256.6 M84.1,293.2 L83.3,289.0 L84.9,284.5 L82.9,281.8 L79.6,280.1 L76.2,278.0 " fill="none" stroke="#d8f0fd" stroke-opacity="0.6" stroke-width="0.75" stroke-linejoin="round"/></g>
<linearGradient id="ga2" x1="62.0" y1="0" x2="127.0" y2="0" gradientUnits="userSpaceOnUse"><stop offset="0" stop-color="#e6f2fb" stop-opacity="0"/><stop offset="0.16" stop-color="#d6eaf8" stop-opacity="0.75"/><stop offset="0.5" stop-color="#a4ceec"/><stop offset="1" stop-color="#6bb1df"/></linearGradient><clipPath id="ca2"><path d="M65.3,353.3 C67.7,351.8 73.6,344.9 80.0,344.0 C86.4,343.1 97.8,349.5 104.0,348.0 C110.2,346.5 112.9,338.4 117.3,334.7 C121.7,331.0 127.0,327.1 130.7,325.3 C134.4,323.5 137.3,324.2 140.0,324.0 C142.7,323.8 145.8,324.0 147.0,324.0 L147.0,343.5 L147.0,343.5 C145.8,343.6 142.3,343.7 140.0,344.0 C137.7,344.3 136.2,343.5 133.3,345.3 C130.4,347.1 127.1,351.4 122.7,354.7 C118.3,358.0 113.3,364.0 106.7,365.3 C100.1,366.6 88.9,361.6 82.7,362.7 C76.5,363.8 71.5,370.5 69.3,372.0Z"/><path d="M144.3,314.3 L170.4,338.2 L145.5,355.4 Z" stroke="#000" stroke-width="8.4" stroke-linejoin="round"/></clipPath><path d="M65.3,353.3 C67.7,351.8 73.6,344.9 80.0,344.0 C86.4,343.1 97.8,349.5 104.0,348.0 C110.2,346.5 112.9,338.4 117.3,334.7 C121.7,331.0 127.0,327.1 130.7,325.3 C134.4,323.5 137.3,324.2 140.0,324.0 C142.7,323.8 145.8,324.0 147.0,324.0 L147.0,343.5 L147.0,343.5 C145.8,343.6 142.3,343.7 140.0,344.0 C137.7,344.3 136.2,343.5 133.3,345.3 C130.4,347.1 127.1,351.4 122.7,354.7 C118.3,358.0 113.3,364.0 106.7,365.3 C100.1,366.6 88.9,361.6 82.7,362.7 C76.5,363.8 71.5,370.5 69.3,372.0Z" fill="url(#ga2)" stroke="none" stroke-width="0" stroke-linejoin="round" stroke-linecap="round" /><path d="M144.3,314.3 L170.4,338.2 L145.5,355.4 Z" fill="#6bb1df" stroke="#6bb1df" stroke-width="8.4" stroke-linejoin="round"/><g clip-path="url(#ca2)"><path d="M173.7,314.0 L176.3,312.6 L179.9,312.0 L182.7,313.8 L182.8,317.4 L182.0,323.1 L179.1,328.1 M153.2,307.8 L154.6,304.9 L158.7,303.0 L163.4,305.3 L164.3,309.7 L163.4,314.2 M116.4,369.1 L116.6,372.5 L115.3,376.3 L115.2,382.0 L115.7,385.3 M118.6,364.1 L116.6,367.3 L114.3,370.0 L110.9,372.8 L107.5,376.3 M138.5,310.4 L142.0,306.6 L141.3,301.2 L139.0,298.8 L135.0,299.4 L133.1,301.2 M126.1,316.6 L128.2,314.9 L129.0,309.7 L131.9,305.8 L131.3,302.7 M105.3,314.5 L103.9,310.4 L102.6,306.1 L105.9,302.2 M134.0,353.6 L134.7,350.8 L137.2,348.5 L137.5,345.4 L137.0,342.7 L133.0,340.2 M144.1,351.7 L142.4,355.1 L143.3,358.2 L147.2,362.1 M110.1,323.2 L112.7,326.1 L118.3,326.6 L121.4,327.0 L126.5,324.9 L129.6,324.4 L134.1,326.1 M99.3,351.0 L97.6,353.8 L97.3,356.5 L96.0,359.3 L91.6,361.0 L90.3,365.0 M144.7,307.4 L140.2,310.0 L137.8,314.7 L136.0,319.2 M131.5,333.5 L126.3,334.5 L124.8,338.0 L122.8,340.4 L117.4,342.0 L113.7,342.6 M164.7,339.1 L165.9,342.6 L164.9,346.7 L164.1,349.6 L162.8,353.6 L162.7,359.2 M101.6,349.5 L97.1,353.0 L95.7,355.2 L92.4,359.7 L92.3,363.4 M173.2,304.5 L174.6,308.6 L179.0,310.2 L182.9,307.9 M170.7,321.9 L167.1,323.5 L162.1,324.4 L156.9,327.3 L152.2,325.4 L150.2,320.5 M148.7,326.2 L149.6,329.0 L153.1,333.3 L152.6,336.1 L148.1,339.1 M170.5,315.3 L170.9,320.6 L172.8,324.6 L171.1,330.2 L171.0,332.8 L167.5,335.3 L166.4,338.1 M114.9,325.5 L118.0,326.7 L122.2,325.4 L124.6,323.5 M126.1,350.0 L123.7,353.9 L121.6,358.1 L123.7,362.6 L122.8,367.3 M124.8,323.8 L129.0,320.3 L131.7,319.7 L136.9,319.3 M117.2,312.9 L118.0,309.5 L116.7,304.8 L118.7,301.7 L120.4,297.6 M109.6,331.9 L112.6,327.2 L115.6,325.9 L120.2,324.1 L124.6,323.1 L127.9,320.0 L130.6,315.5 M125.8,370.6 L122.1,369.9 L120.8,367.2 L119.4,363.1 L119.3,360.3 M161.3,338.9 L162.5,335.2 L164.4,332.4 L163.0,328.7 L163.7,325.7 L167.6,323.9 L168.8,321.3 M125.6,336.7 L126.0,341.5 L124.7,345.7 L125.0,350.9 M121.6,361.7 L122.4,358.0 L119.3,354.9 L119.8,351.0 M173.4,368.8 L171.1,364.0 L169.6,361.8 L166.0,359.2 M107.3,365.6 L111.9,367.3 L114.7,368.5 L116.1,374.1 M132.3,330.5 L133.8,334.0 L137.2,337.2 L137.9,340.2 M118.4,347.9 L123.8,347.3 L126.8,346.7 L127.9,344.0 L127.6,338.9 M160.3,347.1 L157.5,349.7 L157.5,353.8 L159.2,356.5 L161.2,358.4 L161.2,361.9 M168.8,354.3 L174.3,354.9 L176.9,355.1 L179.8,353.0 L185.2,353.5 L188.1,351.2 L188.5,347.9 M124.1,332.5 L124.4,337.1 L123.5,339.9 L121.0,341.4 L119.4,346.4 M174.7,366.2 L174.6,362.7 L171.9,360.4 L166.8,357.8 L163.6,358.2 L161.3,360.6 M173.9,367.4 L173.7,372.8 L174.8,375.5 L180.1,377.6 M156.0,305.9 L155.1,302.1 L155.7,297.0 L157.6,294.5 L158.3,290.9 L155.2,286.8 L151.5,283.0 M136.7,329.1 L141.6,329.2 L145.5,330.9 L147.7,332.3 L152.9,333.2 L155.8,333.0 M129.7,360.8 L130.0,365.4 L131.1,368.5 L131.5,371.4 " fill="none" stroke="#d8f0fd" stroke-opacity="0.6" stroke-width="0.75" stroke-linejoin="round"/></g>
<linearGradient id="ga3" x1="74.0" y1="0" x2="137.0" y2="0" gradientUnits="userSpaceOnUse"><stop offset="0" stop-color="#e6f2fb" stop-opacity="0"/><stop offset="0.16" stop-color="#d6eaf8" stop-opacity="0.75"/><stop offset="0.5" stop-color="#a4ceec"/><stop offset="1" stop-color="#6bb1df"/></linearGradient><clipPath id="ca3"><path d="M76.0,401.3 C78.4,399.1 85.6,390.6 90.7,388.0 C95.8,385.4 101.4,384.9 106.7,385.3 C112.0,385.7 117.9,391.6 122.7,390.7 C127.5,389.8 131.8,382.9 136.0,380.0 C140.2,377.1 144.4,374.6 148.0,373.3 C151.6,372.0 156.3,372.2 158.0,372.0 L158.0,392.5 L158.0,392.5 C156.1,393.1 150.3,393.9 146.7,396.0 C143.1,398.1 140.0,403.1 136.0,405.3 C132.0,407.5 127.1,409.5 122.7,409.3 C118.3,409.1 114.2,404.2 109.3,404.0 C104.4,403.8 98.1,404.9 93.3,408.0 C88.5,411.1 82.2,420.3 80.0,422.7Z"/><path d="M155.8,365.7 L177.5,385.2 L155.1,403.7 Z" stroke="#000" stroke-width="8.4" stroke-linejoin="round"/></clipPath><path d="M76.0,401.3 C78.4,399.1 85.6,390.6 90.7,388.0 C95.8,385.4 101.4,384.9 106.7,385.3 C112.0,385.7 117.9,391.6 122.7,390.7 C127.5,389.8 131.8,382.9 136.0,380.0 C140.2,377.1 144.4,374.6 148.0,373.3 C151.6,372.0 156.3,372.2 158.0,372.0 L158.0,392.5 L158.0,392.5 C156.1,393.1 150.3,393.9 146.7,396.0 C143.1,398.1 140.0,403.1 136.0,405.3 C132.0,407.5 127.1,409.5 122.7,409.3 C118.3,409.1 114.2,404.2 109.3,404.0 C104.4,403.8 98.1,404.9 93.3,408.0 C88.5,411.1 82.2,420.3 80.0,422.7Z" fill="url(#ga3)" stroke="none" stroke-width="0" stroke-linejoin="round" stroke-linecap="round" /><path d="M155.8,365.7 L177.5,385.2 L155.1,403.7 Z" fill="#6bb1df" stroke="#6bb1df" stroke-width="8.4" stroke-linejoin="round"/><g clip-path="url(#ca3)"><path d="M150.4,398.4 L152.5,393.2 L154.3,389.2 L159.9,388.3 L162.7,390.7 L164.6,394.4 M128.0,401.0 L132.2,401.3 L135.3,397.9 L139.1,396.5 L144.5,398.4 L148.9,400.5 L151.5,399.6 M182.3,375.3 L181.6,378.2 L181.9,381.5 L183.2,383.7 M146.9,376.6 L141.5,378.2 L137.6,380.8 L132.2,381.8 L130.8,384.3 M169.0,356.7 L167.7,359.6 L165.0,362.7 L162.7,365.7 L159.1,369.5 L158.2,372.1 M143.5,381.6 L145.2,378.7 L149.8,377.9 L155.2,379.4 M171.7,413.6 L171.9,410.8 L173.3,406.0 L174.1,402.1 L174.8,398.7 L179.6,395.4 L181.6,393.9 M136.9,409.7 L131.3,410.7 L126.3,413.7 L123.4,412.9 M162.4,379.9 L157.3,377.8 L154.5,374.2 L151.2,369.8 L149.2,365.2 L146.9,363.6 M127.1,395.1 L125.8,392.2 L125.4,389.5 L125.9,387.0 L126.1,382.6 M134.9,413.3 L133.7,418.5 L134.9,420.9 L140.1,421.5 M167.7,371.6 L173.2,371.0 L176.8,370.5 L179.2,366.3 L184.3,364.9 L187.7,364.0 M131.6,391.2 L129.5,387.6 L127.7,385.0 L124.5,384.6 M116.0,363.1 L114.7,367.1 L113.9,370.7 L112.2,372.6 L113.0,375.5 M120.5,405.2 L120.9,409.8 L120.6,415.6 L122.6,420.4 M128.3,382.6 L133.2,379.3 L138.7,377.5 L143.0,374.3 M109.2,372.2 L112.1,369.7 L114.9,369.8 L117.9,370.7 L123.2,369.0 M139.5,410.3 L135.5,412.7 L133.2,417.0 L128.0,417.9 L124.2,419.0 L121.8,423.6 L122.4,426.8 M108.6,367.4 L103.2,366.9 L100.5,368.9 L94.7,369.2 L91.8,369.8 L88.3,367.4 L86.9,363.8 M113.3,393.9 L108.2,394.9 L105.2,391.9 L102.7,389.3 M148.1,392.5 L143.9,394.9 L141.9,396.6 L141.0,400.7 L138.7,401.7 L136.2,404.3 L132.8,405.5 M109.1,420.2 L105.1,424.4 L103.8,427.0 L105.5,430.2 L106.8,433.4 L105.6,438.0 L103.0,442.7 M131.6,399.5 L128.7,400.8 L125.7,402.0 L122.4,401.0 L119.9,397.4 L117.5,395.8 M171.0,400.5 L170.4,397.8 L166.4,396.1 L163.3,392.3 L157.8,390.0 L154.2,391.7 M132.0,368.4 L133.7,365.8 L137.3,364.4 L139.8,362.0 L141.9,357.9 L142.2,353.3 M110.9,391.9 L107.9,392.3 L105.0,392.6 L100.3,396.1 L95.8,395.7 L90.2,396.0 M158.8,388.9 L163.2,389.3 L167.5,387.7 L172.2,385.8 L173.9,382.8 M161.8,413.2 L163.9,418.5 L163.2,422.8 L163.5,427.5 M156.5,397.0 L154.1,392.2 L150.5,388.2 L150.6,382.6 L154.3,379.3 L156.9,377.0 L161.9,374.5 M133.9,370.4 L132.4,367.9 L128.1,366.8 L126.0,364.1 L125.8,361.5 M122.3,392.7 L119.0,389.5 L115.5,388.4 L112.9,387.6 L111.1,385.2 L106.5,382.7 L103.7,383.6 M134.6,365.6 L131.9,362.1 L130.7,359.5 L128.6,356.2 M125.9,380.7 L129.2,377.8 L130.9,375.5 L133.9,373.7 L136.5,369.4 M172.4,394.1 L168.3,397.3 L166.1,399.0 L162.6,403.1 L157.9,404.6 L154.8,402.3 L152.3,397.6 M178.0,414.1 L179.6,410.9 L179.8,407.3 L178.6,402.2 L181.5,397.9 L186.0,397.2 M136.8,390.6 L135.4,394.8 L131.7,397.0 L128.7,398.7 M165.1,376.0 L170.3,373.1 L170.9,367.4 L170.5,362.8 L168.6,358.6 M154.3,415.5 L153.0,413.3 L149.5,408.8 L150.0,403.4 L147.8,401.1 L146.9,397.2 M130.9,420.1 L133.0,423.1 L135.7,424.4 L136.1,428.1 L134.8,432.0 L130.5,434.4 L129.8,438.6 M107.6,403.2 L111.4,402.9 L113.0,400.6 L113.1,395.0 L111.0,392.7 " fill="none" stroke="#d8f0fd" stroke-opacity="0.6" stroke-width="0.75" stroke-linejoin="round"/></g>
<linearGradient id="gsp" x1="333" y1="262" x2="346" y2="283" gradientUnits="userSpaceOnUse"><stop offset="0" stop-color="#cfe8f8" stop-opacity="0"/><stop offset="0.45" stop-color="#8fcbee" stop-opacity="0.85"/><stop offset="1" stop-color="#5fb4e6"/></linearGradient>
<path d="M332.5,264.5 C333.3,264.8 336.0,265.4 337.5,266.3 C339.0,267.2 340.5,269.0 341.3,270.0 C342.1,271.0 342.4,271.1 342.6,272.5 C342.8,273.9 342.7,276.0 342.2,278.5 C341.7,281.1 340.8,285.0 339.4,288.0 C338.0,290.9 336.0,293.9 333.7,296.4 C331.5,299.0 327.2,302.2 325.9,303.4" fill="none" stroke="url(#gsp)" stroke-width="13.8" stroke-linejoin="round" stroke-linecap="butt" />
<path d="M339.36,287.97 C338.44,289.37 335.97,293.89 333.74,296.42 C331.52,298.96 328.72,301.39 325.87,303.35 C323.02,305.32 319.68,307.06 316.47,308.34 C313.25,309.63 309.67,310.59 306.38,311.14 C303.09,311.69 299.59,311.85 296.52,311.69" fill="none" stroke="#50a7dc" stroke-width="14.4" stroke-linejoin="round" stroke-linecap="butt" />
<path d="M339.36,287.97 C338.44,289.37 335.97,293.89 333.74,296.42 C331.52,298.96 328.72,301.39 325.87,303.35 C323.02,305.32 319.68,307.06 316.47,308.34 C313.25,309.63 309.67,310.59 306.38,311.14 C303.09,311.69 299.59,311.85 296.52,311.69" fill="none" stroke="#5fb4e6" stroke-width="10.8" stroke-linejoin="round" stroke-linecap="butt" />
<path d="M306.38,311.14 C303.09,311.69 299.59,311.85 296.52,311.69 C293.46,311.53 290.35,310.95 287.78,310.14 C285.21,309.34 282.79,308.13 280.95,306.82 C279.11,305.52 277.58,303.85 276.64,302.22 C275.69,300.59 275.20,298.68 275.24,296.93 C275.29,295.18 275.87,293.26 276.90,291.61" fill="none" stroke="#50a7dc" stroke-width="14.4" stroke-linejoin="round" stroke-linecap="butt" />
<path d="M306.38,311.14 C303.09,311.69 299.59,311.85 296.52,311.69 C293.46,311.53 290.35,310.95 287.78,310.14 C285.21,309.34 282.79,308.13 280.95,306.82 C279.11,305.52 277.58,303.85 276.64,302.22 C275.69,300.59 275.20,298.68 275.24,296.93 C275.29,295.18 275.87,293.26 276.90,291.61" fill="none" stroke="#5fb4e6" stroke-width="10.8" stroke-linejoin="round" stroke-linecap="butt" />
<path d="M275.24,296.93 C275.29,295.18 275.87,293.26 276.90,291.61 C277.93,289.96 279.55,288.26 281.48,286.92 C283.41,285.58 285.93,284.32 288.60,283.47 C291.26,282.62 294.46,281.98 297.63,281.76 C300.80,281.54 304.40,281.64 307.80,282.13 C311.20,282.62 314.90,283.51 318.23,284.74" fill="none" stroke="#50a7dc" stroke-width="14.4" stroke-linejoin="round" stroke-linecap="butt" />
<path d="M275.24,296.93 C275.29,295.18 275.87,293.26 276.90,291.61 C277.93,289.96 279.55,288.26 281.48,286.92 C283.41,285.58 285.93,284.32 288.60,283.47 C291.26,282.62 294.46,281.98 297.63,281.76 C300.80,281.54 304.40,281.64 307.80,282.13 C311.20,282.62 314.90,283.51 318.23,284.74" fill="none" stroke="#5fb4e6" stroke-width="10.8" stroke-linejoin="round" stroke-linecap="butt" />
<path d="M307.80,282.13 C311.20,282.62 314.90,283.51 318.23,284.74 C321.57,285.96 325.04,287.64 328.03,289.55 C331.01,291.46 333.96,293.83 336.34,296.33 C338.72,298.83 340.89,301.75 342.46,304.67 C344.04,307.60 345.24,310.89 345.88,314.04 C346.51,317.20 346.66,320.62 346.31,323.79" fill="none" stroke="#50a7dc" stroke-width="14.4" stroke-linejoin="round" stroke-linecap="butt" />
<path d="M307.80,282.13 C311.20,282.62 314.90,283.51 318.23,284.74 C321.57,285.96 325.04,287.64 328.03,289.55 C331.01,291.46 333.96,293.83 336.34,296.33 C338.72,298.83 340.89,301.75 342.46,304.67 C344.04,307.60 345.24,310.89 345.88,314.04 C346.51,317.20 346.66,320.62 346.31,323.79" fill="none" stroke="#5fb4e6" stroke-width="10.8" stroke-linejoin="round" stroke-linecap="butt" />
<path d="M345.88,314.04 C346.51,317.20 346.66,320.62 346.31,323.79 C345.96,326.97 345.05,330.29 343.75,333.27 C342.46,336.24 340.57,339.24 338.45,341.82 C336.33,344.39 333.65,346.87 330.90,348.88 C328.15,350.90 324.92,352.69 321.79,354.03 C318.67,355.37 315.17,356.39 311.95,357.00" fill="none" stroke="#50a7dc" stroke-width="14.4" stroke-linejoin="round" stroke-linecap="butt" />
<path d="M345.88,314.04 C346.51,317.20 346.66,320.62 346.31,323.79 C345.96,326.97 345.05,330.29 343.75,333.27 C342.46,336.24 340.57,339.24 338.45,341.82 C336.33,344.39 333.65,346.87 330.90,348.88 C328.15,350.90 324.92,352.69 321.79,354.03 C318.67,355.37 315.17,356.39 311.95,357.00" fill="none" stroke="#5fb4e6" stroke-width="10.8" stroke-linejoin="round" stroke-linecap="butt" />
<path d="M321.79,354.03 C318.67,355.37 315.17,356.39 311.95,357.00 C308.73,357.61 305.29,357.84 302.26,357.73 C299.23,357.62 296.16,357.09 293.60,356.33 C291.04,355.57 288.61,354.41 286.75,353.13 C284.89,351.86 283.32,350.22 282.33,348.61 C281.34,346.99 280.77,345.10 280.74,343.35" fill="none" stroke="#50a7dc" stroke-width="14.4" stroke-linejoin="round" stroke-linecap="butt" />
<path d="M321.79,354.03 C318.67,355.37 315.17,356.39 311.95,357.00 C308.73,357.61 305.29,357.84 302.26,357.73 C299.23,357.62 296.16,357.09 293.60,356.33 C291.04,355.57 288.61,354.41 286.75,353.13 C284.89,351.86 283.32,350.22 282.33,348.61 C281.34,346.99 280.77,345.10 280.74,343.35" fill="none" stroke="#5fb4e6" stroke-width="10.8" stroke-linejoin="round" stroke-linecap="butt" />
<path d="M282.33,348.61 C281.34,346.99 280.77,345.10 280.74,343.35 C280.71,341.60 281.20,339.67 282.14,338.00 C283.08,336.34 284.59,334.62 286.42,333.25 C288.24,331.87 290.65,330.58 293.21,329.68 C295.77,328.79 298.86,328.10 301.93,327.82 C305.00,327.55 308.51,327.59 311.83,328.02" fill="none" stroke="#50a7dc" stroke-width="14.4" stroke-linejoin="round" stroke-linecap="butt" />
<path d="M282.33,348.61 C281.34,346.99 280.77,345.10 280.74,343.35 C280.71,341.60 281.20,339.67 282.14,338.00 C283.08,336.34 284.59,334.62 286.42,333.25 C288.24,331.87 290.65,330.58 293.21,329.68 C295.77,328.79 298.86,328.10 301.93,327.82 C305.00,327.55 308.51,327.59 311.83,328.02" fill="none" stroke="#5fb4e6" stroke-width="10.8" stroke-linejoin="round" stroke-linecap="butt" />
<path d="M301.93,327.82 C305.00,327.55 308.51,327.59 311.83,328.02 C315.15,328.46 318.77,329.41 322.05,330.46 C325.33,331.50 328.75,332.84 331.71,334.35 C334.67,335.87 337.60,337.64 339.99,339.65 C342.37,341.67 344.56,344.10 346.17,346.55 C347.78,349.01 349.04,351.82 349.73,354.52" fill="none" stroke="#50a7dc" stroke-width="14.4" stroke-linejoin="round" stroke-linecap="butt" />
<path d="M301.93,327.82 C305.00,327.55 308.51,327.59 311.83,328.02 C315.15,328.46 318.77,329.41 322.05,330.46 C325.33,331.50 328.75,332.84 331.71,334.35 C334.67,335.87 337.60,337.64 339.99,339.65 C342.37,341.67 344.56,344.10 346.17,346.55 C347.78,349.01 349.04,351.82 349.73,354.52" fill="none" stroke="#5fb4e6" stroke-width="10.8" stroke-linejoin="round" stroke-linecap="butt" />
<path d="M346.17,346.55 C347.78,349.01 349.04,351.82 349.73,354.52 C350.43,357.22 350.66,360.19 350.39,362.93 C350.12,365.66 349.17,368.04 348.11,371.10 C347.06,374.17 346.66,378.55 344.00,381.50 C341.34,384.45 336.29,387.27 332.00,389.00 C327.71,390.73 323.28,391.92 318.00,392.00" fill="none" stroke="#50a7dc" stroke-width="14.4" stroke-linejoin="round" stroke-linecap="butt" />
<path d="M346.17,346.55 C347.78,349.01 349.04,351.82 349.73,354.52 C350.43,357.22 350.66,360.19 350.39,362.93 C350.12,365.66 349.17,368.04 348.11,371.10 C347.06,374.17 346.66,378.55 344.00,381.50 C341.34,384.45 336.29,387.27 332.00,389.00 C327.71,390.73 323.28,391.92 318.00,392.00" fill="none" stroke="#5fb4e6" stroke-width="10.8" stroke-linejoin="round" stroke-linecap="butt" />
<path d="M332.00,389.00 C327.71,390.73 323.28,391.92 318.00,392.00 C312.72,392.08 302.97,389.91 300.00,389.50" fill="none" stroke="#50a7dc" stroke-width="14.4" stroke-linejoin="round" stroke-linecap="butt" />
<path d="M332.00,389.00 C327.71,390.73 323.28,391.92 318.00,392.00 C312.72,392.08 302.97,389.91 300.00,389.50" fill="none" stroke="#5fb4e6" stroke-width="10.8" stroke-linejoin="round" stroke-linecap="butt" />
<path d="M301.9,376.2 L290.7,386.9 L302.2,397.7 Z" fill="#5fb4e6" stroke="#5fb4e6" stroke-width="8.4" stroke-linejoin="round"/>
<mask id="msp" maskUnits="userSpaceOnUse" x="250" y="250" width="120" height="160"><path d="M342.6,272.5 C342.5,273.5 342.7,276.0 342.2,278.5 C341.7,281.1 340.8,285.0 339.4,288.0 C338.0,290.9 336.0,293.9 333.7,296.4 C331.5,299.0 328.7,301.4 325.9,303.4 C323.0,305.3 319.7,307.1 316.5,308.3 C313.3,309.6 309.7,310.6 306.4,311.1 C303.1,311.7 299.6,311.9 296.5,311.7 C293.5,311.5 290.4,310.9 287.8,310.1 C285.2,309.3 282.8,308.1 280.9,306.8 C279.1,305.5 277.6,303.9 276.6,302.2 C275.7,300.6 275.2,298.7 275.2,296.9 C275.3,295.2 275.9,293.3 276.9,291.6 C277.9,290.0 279.6,288.3 281.5,286.9 C283.4,285.6 285.9,284.3 288.6,283.5 C291.3,282.6 294.5,282.0 297.6,281.8 C300.8,281.5 304.4,281.6 307.8,282.1 C311.2,282.6 314.9,283.5 318.2,284.7 C321.6,286.0 325.0,287.6 328.0,289.5 C331.0,291.5 334.0,293.8 336.3,296.3 C338.7,298.8 340.9,301.8 342.5,304.7 C344.0,307.6 345.2,310.9 345.9,314.0 C346.5,317.2 346.7,320.6 346.3,323.8 C346.0,327.0 345.1,330.3 343.8,333.3 C342.5,336.2 340.6,339.2 338.5,341.8 C336.3,344.4 333.7,346.9 330.9,348.9 C328.2,350.9 324.9,352.7 321.8,354.0 C318.7,355.4 315.2,356.4 311.9,357.0 C308.7,357.6 305.3,357.8 302.3,357.7 C299.2,357.6 296.2,357.1 293.6,356.3 C291.0,355.6 288.6,354.4 286.8,353.1 C284.9,351.9 283.3,350.2 282.3,348.6 C281.3,347.0 280.8,345.1 280.7,343.3 C280.7,341.6 281.2,339.7 282.1,338.0 C283.1,336.3 284.6,334.6 286.4,333.2 C288.2,331.9 290.6,330.6 293.2,329.7 C295.8,328.8 298.9,328.1 301.9,327.8 C305.0,327.5 308.5,327.6 311.8,328.0 C315.1,328.5 318.8,329.4 322.1,330.5 C325.3,331.5 328.8,332.8 331.7,334.4 C334.7,335.9 337.6,337.6 340.0,339.7 C342.4,341.7 344.6,344.1 346.2,346.6 C347.8,349.0 349.0,351.8 349.7,354.5 C350.4,357.2 350.7,360.2 350.4,362.9 C350.1,365.7 349.2,368.0 348.1,371.1 C347.1,374.2 346.7,378.5 344.0,381.5 C341.3,384.5 336.3,387.3 332.0,389.0 C327.7,390.7 323.3,391.9 318.0,392.0 C312.7,392.1 303.0,389.9 300.0,389.5" fill="none" stroke="#fff" stroke-width="13.4" stroke-linecap="round" stroke-linejoin="round"/></mask>
<g mask="url(#msp)"><path d="M301.6,294.4 L304.2,295.5 L307.1,298.7 L308.0,301.4 L308.2,304.6 M332.8,345.7 L337.1,342.3 L338.5,338.4 L337.1,334.1 L332.6,332.0 L330.6,330.1 M293.0,273.6 L287.2,275.0 L283.1,275.7 L279.4,272.9 L279.5,269.1 L276.5,264.3 L271.6,262.5 M320.4,397.7 L321.1,395.3 L322.3,390.0 L320.1,386.8 L316.5,386.3 M262.6,311.5 L259.1,306.7 L257.7,302.9 L256.4,297.7 L251.5,294.6 M308.7,275.4 L309.2,271.5 L307.4,269.1 L304.3,268.3 L301.4,269.8 M317.0,369.7 L314.6,364.9 L312.1,363.7 L307.6,363.4 L305.4,365.9 L302.8,370.5 M301.1,322.7 L300.8,325.3 L301.6,330.7 L300.2,333.8 M345.7,297.8 L348.3,293.6 L348.3,288.2 L349.4,285.1 M291.0,367.2 L296.4,369.1 L299.5,367.4 L303.0,366.9 L305.9,366.3 L309.2,368.6 L315.0,369.6 M343.0,289.0 L342.3,292.7 L343.3,295.0 L345.5,297.7 L345.5,303.3 L343.7,308.3 L344.3,312.2 M335.8,361.2 L333.3,361.9 L330.2,362.7 L324.5,364.0 L320.1,359.9 L316.3,356.3 M353.4,302.8 L355.8,299.2 L359.2,295.9 L364.3,294.7 L366.0,292.8 L365.8,289.3 L366.5,283.4 M302.8,316.7 L300.1,317.5 L296.6,315.7 L294.9,312.7 L290.7,309.1 L290.4,303.5 M330.1,319.4 L326.9,319.0 L321.4,318.8 L318.6,317.5 L316.7,311.8 M318.1,350.6 L322.1,352.4 L322.7,356.7 L326.9,359.9 L331.6,359.0 M262.4,357.8 L261.1,361.6 L262.7,365.9 L265.2,366.7 M295.6,298.4 L297.3,296.3 L300.5,295.3 L302.9,291.9 L303.8,287.2 M268.9,389.3 L271.5,385.2 L274.1,384.2 L279.1,384.1 L281.5,385.9 M270.5,368.2 L266.2,365.1 L261.6,364.7 L260.0,362.1 L260.1,356.5 M341.3,325.6 L342.9,330.0 L344.7,335.5 L348.9,339.3 M339.7,371.3 L344.0,373.1 L346.1,378.3 L351.0,381.0 L355.0,380.3 L358.6,377.5 L360.9,376.3 M355.0,285.5 L357.7,287.8 L361.7,287.5 L363.9,284.6 L366.7,282.2 L368.6,279.1 M343.2,272.6 L345.6,268.2 L343.1,263.3 L340.1,260.8 L335.8,257.2 M284.3,337.2 L287.2,335.3 L290.0,335.7 L293.7,331.2 L296.6,330.6 M355.4,351.1 L360.4,349.8 L363.8,345.1 L362.6,341.4 L365.1,338.2 L365.2,334.9 M304.6,331.1 L302.1,329.0 L300.0,326.5 L299.9,322.5 L296.9,318.1 L292.0,317.0 M286.3,379.0 L288.4,382.8 L288.8,386.8 L289.0,389.5 M286.5,369.3 L287.8,373.8 L285.5,377.1 L284.2,382.7 L282.5,385.3 M350.2,356.7 L353.5,354.7 L354.8,351.1 L357.7,347.9 L358.1,345.2 L361.3,343.3 M275.8,278.3 L277.3,275.0 L278.0,270.7 L279.7,268.8 M279.2,297.3 L277.2,293.8 L276.7,291.1 L279.0,286.6 M310.7,341.7 L309.1,345.1 L310.5,349.2 L312.9,350.1 L317.6,349.7 L320.7,347.9 M323.2,296.1 L322.1,292.8 L322.8,290.0 L319.9,286.9 M354.3,374.5 L351.2,375.7 L345.5,375.4 L341.4,371.5 L338.6,369.7 L336.1,367.4 M334.8,312.7 L332.1,313.5 L330.2,316.9 L328.4,321.4 M319.5,270.3 L324.2,271.3 L325.2,273.6 L328.1,278.7 L332.5,281.8 L334.0,286.5 M359.8,361.1 L361.4,364.7 L364.6,365.9 L367.7,367.2 L368.3,370.2 M288.9,284.3 L287.0,280.9 L288.2,276.5 L286.4,270.8 M337.4,308.5 L333.3,308.7 L330.7,311.2 L330.4,315.5 L329.1,319.9 L331.4,323.7 M338.6,343.6 L336.8,345.7 L334.6,349.1 L335.2,351.6 L333.9,354.0 L333.9,357.2 L336.1,359.8 M292.4,377.1 L289.7,376.2 L285.4,379.6 L283.6,382.8 L285.5,387.2 M286.5,339.6 L287.1,344.5 L285.9,348.8 L283.9,351.5 L283.7,356.8 L283.4,360.7 M308.7,289.6 L303.9,292.2 L301.6,293.3 L297.9,294.1 L296.4,296.3 M314.3,394.1 L310.8,395.1 L306.8,392.3 L305.1,389.2 L304.5,385.5 L302.4,383.3 M279.2,280.2 L276.4,284.0 L273.0,284.4 L268.6,280.4 L266.2,279.2 L262.2,275.1 L259.1,273.2 M285.2,284.4 L286.7,281.3 L289.5,280.3 L294.4,282.6 L299.4,282.7 L304.0,285.7 M264.7,335.0 L265.1,339.4 L267.3,342.8 L271.2,346.6 L276.2,349.1 M284.4,354.0 L280.7,356.1 L280.2,360.1 L276.4,364.5 L274.2,366.5 L268.9,369.1 M338.0,338.7 L341.1,342.7 L340.3,346.7 L337.9,351.2 M310.7,362.8 L310.7,365.9 L309.8,368.9 L312.2,373.8 M341.1,328.4 L345.6,326.0 L345.9,323.3 L343.5,321.0 M300.6,317.0 L299.2,313.6 L301.2,309.0 L299.3,305.9 L299.8,301.5 M281.7,322.8 L279.9,319.0 L275.2,317.6 L272.6,315.3 L270.2,311.9 M316.6,369.7 L321.9,367.8 L326.5,369.7 L330.2,367.4 L331.7,364.4 L332.6,360.6 M348.7,317.4 L350.4,321.2 L350.2,325.4 L351.7,329.8 L353.6,332.2 M322.5,334.4 L320.0,331.1 L316.9,326.9 L314.1,324.5 L311.1,322.5 M357.8,360.9 L359.4,364.5 L356.9,368.8 L353.6,369.2 L352.0,371.4 M267.5,351.2 L264.8,354.5 L260.0,354.4 L257.9,351.0 L258.7,347.0 L257.2,341.4 M323.1,286.9 L321.7,281.1 L320.5,277.2 L319.3,272.8 L316.8,269.6 M307.5,281.0 L310.9,279.5 L311.6,275.5 L316.4,273.0 L319.3,272.9 L324.3,275.9 L329.0,279.3 M353.2,398.8 L356.3,399.4 L358.7,404.0 L361.8,406.1 L361.9,411.9 M337.2,273.1 L340.7,276.9 L344.1,277.4 L347.8,277.0 L350.6,279.4 M290.6,353.2 L292.2,358.8 L296.3,362.5 L296.4,366.0 M341.9,316.7 L344.2,319.3 L346.3,323.6 L348.9,324.0 L351.6,324.7 L356.5,321.6 L361.2,323.3 M352.5,359.1 L354.2,355.7 L357.0,351.8 L362.8,351.7 M349.6,391.4 L348.6,394.6 L349.1,400.3 L349.1,403.1 L349.3,408.3 M328.7,282.7 L323.4,281.3 L321.0,283.1 L319.1,287.2 L320.2,291.8 L318.5,294.9 M299.0,333.7 L302.8,331.3 L305.3,331.9 L307.4,330.2 L311.3,331.5 M267.9,306.0 L267.0,311.6 L269.3,314.2 L268.5,319.5 L271.4,322.9 L275.9,322.4 M280.9,332.6 L280.4,336.6 L280.0,340.1 L275.1,342.8 L272.4,344.7 M335.8,336.5 L339.2,332.5 L339.8,328.1 L341.5,325.5 L344.9,325.4 L346.9,327.0 M270.5,270.1 L273.0,269.3 L276.1,270.7 L277.7,274.1 M298.7,326.8 L295.5,326.8 L289.8,327.3 L285.3,329.2 L281.7,329.4 L279.9,332.1 L279.9,336.4 M293.0,354.0 L288.7,353.0 L286.5,351.0 L281.2,350.7 M339.6,292.1 L339.9,296.7 L337.4,299.0 L334.2,299.5 L328.5,300.3 L326.4,304.4 L323.4,307.2 M288.5,344.2 L292.0,348.1 L291.0,352.4 L286.4,354.7 L281.1,354.6 L278.3,353.9 L273.4,356.5 M325.0,290.6 L325.1,294.6 L323.7,299.7 L324.2,302.8 L326.6,307.9 M267.1,347.2 L265.6,341.6 L265.6,337.4 L266.2,333.3 L264.3,330.0 L260.2,327.6 M289.2,348.7 L287.6,346.2 L284.7,344.5 L283.9,338.9 L280.8,335.4 L279.9,331.2 L276.5,326.8 M263.4,391.6 L263.8,388.7 L267.2,384.4 L270.5,381.6 L272.0,376.4 L274.1,374.5 M272.3,384.1 L267.9,387.6 L262.0,388.7 L257.9,388.6 L254.6,385.4 L251.1,384.5 L249.0,383.0 M355.3,372.3 L357.5,370.0 L358.4,365.9 L356.4,363.4 L356.2,359.3 L353.4,354.6 M267.6,295.2 L271.6,294.9 L274.8,295.4 L278.3,295.5 L282.4,291.5 L287.6,290.9 L291.2,287.0 M353.0,277.1 L353.4,282.6 L351.6,285.8 L349.9,290.0 L349.8,293.1 L352.0,295.7 M302.0,331.6 L304.3,327.6 L302.8,323.7 L302.7,321.1 L304.0,317.3 L302.3,314.5 L297.9,313.6 M323.4,331.3 L327.1,334.3 L331.9,334.4 L336.4,332.7 M350.9,354.9 L347.8,354.0 L342.6,351.7 L341.5,349.0 L343.1,344.9 L342.3,341.2 L339.9,338.6 M298.2,372.0 L300.6,373.0 L303.6,378.1 L305.7,381.8 L304.6,385.3 M342.4,329.1 L344.1,326.6 L344.8,322.0 L344.3,318.8 " fill="none" stroke="#d8eefc" stroke-opacity="0.5" stroke-width="0.7" stroke-linejoin="round"/></g>
<path d="M352.8,470.3 C354.0,470.2 357.8,468.0 360.3,469.4 C362.8,470.8 366.4,475.2 368.0,478.5 C369.6,481.8 370.6,485.8 370.3,489.3 C370.0,492.8 368.4,496.3 366.0,499.5 C363.6,502.7 360.2,506.9 356.0,508.8 C351.8,510.7 345.5,511.6 340.8,511.3 C336.1,511.0 330.3,508.6 327.8,507.0 C325.3,505.4 325.0,503.3 325.7,501.6 C326.4,499.9 327.9,497.9 332.2,496.6 C336.5,495.3 344.9,494.5 351.7,494.0 C358.5,493.5 366.2,493.5 373.3,493.3 C380.4,493.1 385.6,492.9 395.0,492.6 C404.4,492.3 424.2,491.8 430.0,491.6" fill="none" stroke="#4d9fd8" stroke-width="8.0" stroke-linejoin="round" stroke-linecap="round" />
<path d="M429.8,484.0 L440.4,491.7 L431.7,499.8 Z" fill="#4d9fd8" stroke="#4d9fd8" stroke-width="7.2" stroke-linejoin="round"/>
</svg>
</body></html>
